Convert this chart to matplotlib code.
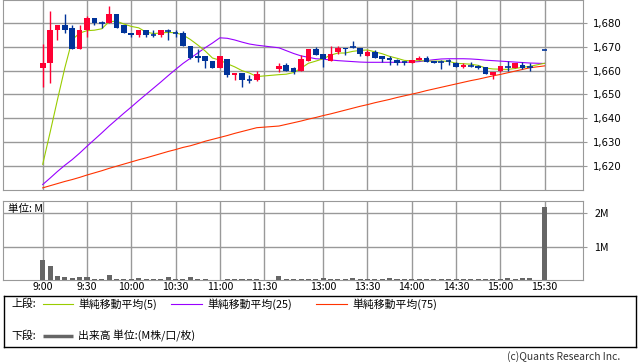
import matplotlib
matplotlib.use("Agg")
import matplotlib.pyplot as plt

plt.rcParams['font.family'] = ['Noto Sans CJK JP', 'DejaVu Sans']

# 5-minute bars (morning 9:00-11:25, afternoon 12:30-15:20, closing 15:30)
times = ["9:00", "9:05", "9:10", "9:15", "9:20", "9:25", "9:30", "9:35", "9:40", "9:45",
         "9:50", "9:55", "10:00", "10:05", "10:10", "10:15", "10:20", "10:25", "10:30", "10:35",
         "10:40", "10:45", "10:50", "10:55", "11:00", "11:05", "11:10", "11:15", "11:20", "11:25",
         "12:30", "12:35", "12:40", "12:45", "12:50", "12:55", "13:00", "13:05", "13:10", "13:15",
         "13:20", "13:25", "13:30", "13:35", "13:40", "13:45", "13:50", "13:55", "14:00", "14:05",
         "14:10", "14:15", "14:20", "14:25", "14:30", "14:35", "14:40", "14:45", "14:50", "14:55",
         "15:00", "15:05", "15:10", "15:15", "15:20", "15:30"]

opens = [1661, 1663, 1677, 1679, 1678, 1669, 1677, 1682, 1680, 1680,
         1684, 1679, 1676, 1675, 1677, 1675, 1675, 1676.5, 1676, 1676,
         1670.5, 1666, 1666, 1664, 1661, 1665, 1658, 1659, 1656, 1656,
         1660.5, 1662.5, 1661, 1660, 1664, 1669, 1667, 1664, 1668, 1669.5,
         1670, 1669.5, 1666, 1668, 1666, 1665.5, 1664.5, 1663.5, 1663, 1664.5,
         1665.5, 1664, 1663.5, 1664, 1663, 1661.5, 1662, 1662, 1661.5, 1658,
         1660, 1661.5, 1661, 1662.5, 1661.5, 1668.5]
highs = [1671, 1685, 1679, 1684, 1679, 1679, 1683, 1682, 1681, 1687,
         1684, 1679, 1676, 1677, 1677, 1677, 1677, 1677.5, 1677, 1676.5,
         1670.5, 1669, 1666, 1664, 1666, 1665, 1659, 1659, 1658, 1660,
         1663, 1663, 1661.5, 1666.5, 1669, 1670, 1667, 1670.5, 1670.5, 1669.5,
         1672.5, 1669.5, 1668.5, 1668.5, 1666, 1666, 1665, 1664, 1664.5, 1666,
         1666, 1664, 1664.5, 1665, 1663.5, 1663, 1663.5, 1662.5, 1661.5, 1659.5,
         1662, 1664, 1663, 1663.5, 1663, 1668.5]
lows = [1653, 1655, 1673, 1676, 1669, 1669, 1674, 1679, 1678, 1680,
        1678, 1676, 1674, 1674, 1674, 1674, 1674, 1673, 1674, 1670.5,
        1665, 1663.5, 1661, 1661, 1661, 1657.5, 1656, 1653, 1655, 1655.5,
        1659.5, 1660, 1658.5, 1660, 1664, 1666.5, 1661.5, 1664, 1667, 1666.5,
        1669.5, 1666, 1666, 1665.5, 1663.5, 1662.5, 1662.5, 1662.5, 1663, 1664.5,
        1663.5, 1663, 1660.5, 1662.5, 1661.5, 1661, 1661.5, 1660.5, 1658.5, 1656.5,
        1659.5, 1660, 1661, 1660.5, 1660, 1668.5]
closes = [1663, 1677, 1679, 1677, 1669, 1677, 1682, 1680, 1680, 1684,
          1678, 1676, 1675, 1677, 1675, 1675, 1677, 1676.5, 1676, 1670.5,
          1665.5, 1665.5, 1664, 1661, 1666, 1658, 1659, 1656, 1656, 1658.5,
          1662, 1660, 1659.5, 1665, 1669, 1666.5, 1665, 1667, 1669.5, 1669,
          1670, 1667, 1668, 1665.5, 1665, 1664.5, 1663, 1663.5, 1664.5, 1665.5,
          1663.5, 1663, 1663.5, 1664, 1661.5, 1662.5, 1662, 1661, 1658.5, 1659.5,
          1662, 1661.5, 1663, 1661, 1661.5, 1668.5]

# volume in millions
volumes = [0.60, 0.42, 0.12, 0.10, 0.05, 0.09, 0.09, 0.04, 0.04, 0.15,
           0.04, 0.03, 0.03, 0.06, 0.02, 0.03, 0.04, 0.09, 0.04, 0.03,
           0.09, 0.04, 0.02, 0.01, 0.01, 0.03, 0.02, 0.03, 0.03, 0.03,
           0.12, 0.04, 0.02, 0.03, 0.02, 0.02, 0.07, 0.04, 0.04, 0.04,
           0.07, 0.04, 0.02, 0.02, 0.02, 0.07, 0.02, 0.02, 0.04, 0.02,
           0.02, 0.02, 0.04, 0.02, 0.04, 0.02, 0.04, 0.04, 0.04, 0.04,
           0.04, 0.06, 0.04, 0.06, 0.06, 2.18]

ma5 = [1620.6, 1634.0, 1647.8, 1661.2, 1673.0, 1675.8, 1676.8, 1677.0, 1677.6, 1680.6,
       1680.8, 1679.6, 1678.6, 1678.0, 1676.2, 1675.6, 1675.8, 1676.1, 1675.9, 1675.0,
       1673.1, 1670.8, 1668.3, 1665.3, 1664.4, 1662.9, 1661.6, 1660.0, 1659.0, 1657.5,
       1658.3, 1658.5, 1659.2, 1661.0, 1663.1, 1664.0, 1665.0, 1666.5, 1667.4, 1667.4,
       1668.1, 1668.5, 1668.7, 1667.9, 1667.1, 1666.0, 1665.2, 1664.3, 1664.1, 1664.2,
       1664.0, 1664.0, 1664.0, 1663.9, 1663.1, 1662.9, 1662.7, 1662.2, 1661.1, 1660.7,
       1660.6, 1660.5, 1660.9, 1661.4, 1661.8, 1663.1]
ma25 = [1612.1, 1614.8, 1617.6, 1620.2, 1622.6, 1625.3, 1628.2, 1631.0, 1633.8, 1636.7,
        1639.4, 1642.1, 1644.7, 1647.4, 1650.0, 1652.6, 1655.2, 1657.9, 1660.5, 1663.0,
        1665.2, 1667.4, 1669.6, 1671.6, 1673.8, 1673.6, 1672.9, 1672.0, 1671.2, 1670.7,
        1669.6, 1668.4, 1667.2, 1666.2, 1665.6, 1665.0, 1664.8, 1664.5, 1664.2, 1664.0,
        1663.8, 1663.6, 1663.5, 1663.5, 1663.5, 1663.5, 1663.5, 1663.5, 1663.6, 1663.8,
        1664.2, 1664.6, 1664.9, 1665.0, 1665.0, 1665.0, 1664.9, 1664.7, 1664.4, 1664.2,
        1664.0, 1663.8, 1663.6, 1663.4, 1663.2, 1663.0]
ma75 = [1610.7, 1611.6, 1612.5, 1613.4, 1614.2, 1615.1, 1616.1, 1617.0, 1617.9, 1618.9,
        1619.8, 1620.7, 1621.6, 1622.5, 1623.3, 1624.2, 1625.1, 1626.0, 1626.8, 1627.7,
        1628.4, 1629.3, 1630.3, 1631.1, 1631.9, 1632.7, 1633.6, 1634.4, 1635.2, 1636.0,
        1636.7, 1637.4, 1638.1, 1638.8, 1639.6, 1640.3, 1641.1, 1641.8, 1642.6, 1643.4,
        1644.2, 1645.0, 1645.7, 1646.5, 1647.2, 1647.9, 1648.7, 1649.4, 1650.1, 1650.8,
        1651.6, 1652.3, 1653.0, 1653.7, 1654.4, 1655.1, 1655.8, 1656.4, 1657.1, 1657.8,
        1658.4, 1659.1, 1659.8, 1660.5, 1661.2, 1662.0]

tick_times = ["9:00", "9:30", "10:00", "10:30", "11:00", "11:30",
              "13:00", "13:30", "14:00", "14:30", "15:00", "15:30"]
price_ticks = [1620, 1630, 1640, 1650, 1660, 1670, 1680]
volume_ticks = [1, 2]
volume_tick_labels = ["1M", "2M"]

UP = "#ff0033"
DOWN = "#003399"
GRID = "#999999"


def slot(t):
    # one slot per 5 minutes; the lunch break is squeezed to a single empty slot
    h, m = map(int, t.split(":"))
    s = ((h - 9) * 60 + m) / 5
    if h >= 12:
        s -= 10
    return s


x = [slot(t) for t in times]
xt = [slot(t) for t in tick_times]

W, H = 638, 362
fig = plt.figure(figsize=(W / 100, H / 100), dpi=100)


def px_axes(l, t, r, b):
    return fig.add_axes([l / W, 1 - b / H, (r - l) / W, (b - t) / H])


# ---- price panel
ax = px_axes(3, 0, 583, 190)
ax.set_xlim(-5.38, 73.2)
ax.set_ylim(1609.8, 1689.7)
ax.set_xticks(xt)
ax.set_yticks(price_ticks)
ax.set_yticklabels([f"{v:,}" for v in price_ticks], family=["DejaVu Sans"], fontsize=7.3)
ax.tick_params(axis="x", length=0, labelbottom=False)
ax.tick_params(axis="y", left=False, labelleft=False, right=True, labelright=True,
               length=3, pad=4, color=GRID)
ax.grid(True, color=GRID, lw=1)
ax.set_axisbelow(True)
for s in ax.spines.values():
    s.set_color(GRID)

ax.plot(x, ma75, color="#ff3300", lw=0.8, zorder=2)
ax.plot(x, ma25, color="#9900ff", lw=0.8, zorder=2)
ax.plot(x, ma5, color="#99cc00", lw=0.8, zorder=2)

bw = 0.76
for xi, o, h, l, c in zip(x, opens, highs, lows, closes):
    col = UP if c > o else DOWN
    ax.vlines(xi, l, h, color=col, lw=1, zorder=3)
    if abs(c - o) < 0.4:
        ax.hlines(o, xi - bw / 2, xi + bw / 2, color=col, lw=1.2, zorder=4)
    else:
        ax.bar(xi, abs(c - o), bottom=min(o, c), width=bw, color=col, lw=0, zorder=4)

# ---- volume panel
axv = px_axes(3, 201, 583, 280)
axv.set_xlim(-5.38, 73.2)
axv.set_ylim(0, 2.36)
axv.bar(x, volumes, width=0.68, color="#666666", lw=0, zorder=3)
axv.set_xticks(xt)
axv.set_xticklabels(tick_times, fontsize=7.6)
axv.set_yticks(volume_ticks)
axv.set_yticklabels(volume_tick_labels, fontsize=7.6)
axv.tick_params(axis="x", length=0, pad=1.5)
axv.tick_params(axis="y", left=False, labelleft=False, right=True, labelright=True,
                length=3, pad=5, color=GRID)
axv.grid(True, color=GRID, lw=1)
axv.set_axisbelow(True)
for s in axv.spines.values():
    s.set_color(GRID)
axv.text(5 / 580, 1 - 8 / 79, "単位: M", transform=axv.transAxes, fontsize=7.6,
         va="center", ha="left")

# ---- legend box
axl = px_axes(4, 296, 636, 347)
axl.set_xlim(0, 632)
axl.set_ylim(51, 0)
axl.set_xticks([])
axl.set_yticks([])
for s in axl.spines.values():
    s.set_color("black")
    s.set_linewidth(1)
fs = 7.8
axl.text(7, 8, "上段:", fontsize=fs, va="center")
axl.plot([39, 69], [8, 8], color="#99cc00", lw=0.8)
axl.text(74, 8, "単純移動平均(5)", fontsize=fs, va="center")
axl.plot([167, 198], [8, 8], color="#9900ff", lw=0.8)
axl.text(203, 8, "単純移動平均(25)", fontsize=fs, va="center")
axl.plot([312, 343], [8, 8], color="#ff3300", lw=0.8)
axl.text(348, 8, "単純移動平均(75)", fontsize=fs, va="center")
axl.text(7, 40, "下段:", fontsize=fs, va="center")
axl.plot([39, 69], [40, 40], color="#666666", lw=2.5, solid_capstyle="butt")
axl.text(74, 40, "出来高 単位:(M株/口/枚)", fontsize=fs, va="center")

fig.text(620 / W, 1 - 357 / H, "(c)Quants Research Inc.", fontsize=7.4, color="#333333",
         ha="right", va="center")

fig.savefig("out.png", dpi=100)
